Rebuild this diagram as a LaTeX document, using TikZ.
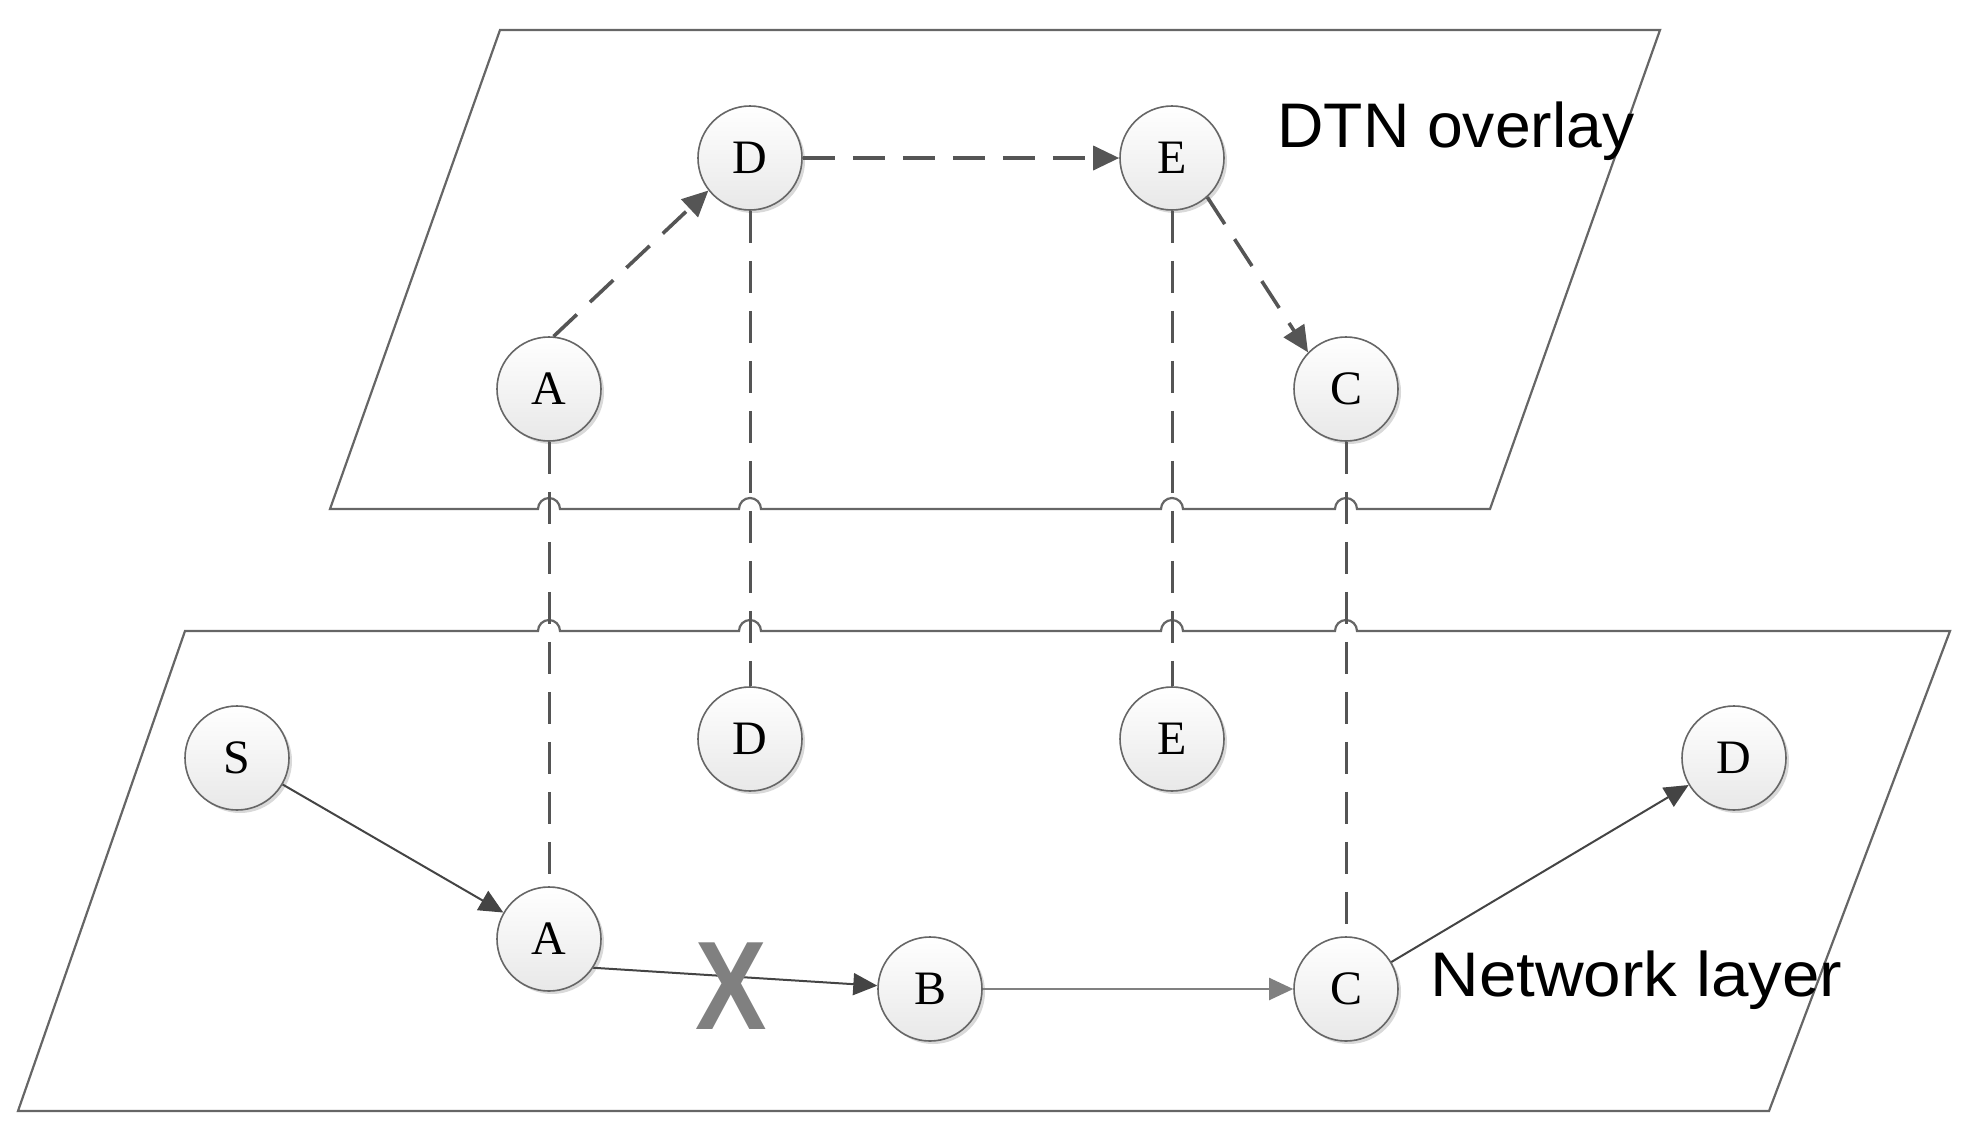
\documentclass[tikz,border=0pt]{standalone}
\usepackage{fontspec}
\setmainfont{Liberation Serif}
\newfontfamily\lblfont{Liberation Sans}
\usetikzlibrary{arrows.meta,shadows}
\definecolor{edgegray}{HTML}{666666}
\definecolor{dashgray}{HTML}{555555}
\definecolor{arrgray}{HTML}{444444}
\definecolor{xgray}{HTML}{808080}
\tikzset{
  nd/.style={circle, draw=black!60, line width=0.8pt, minimum size=52pt, inner sep=0pt,
    top color=white, bottom color=black!9,
    font=\fontsize{24}{24}\selectfont,
    drop shadow={shadow xshift=1.5pt, shadow yshift=-1.5pt, opacity=0.15, fill=black}},
  plane/.style={draw=edgegray, line width=1.1pt, line join=miter},
  vlink/.style={draw=dashgray, line width=1.5pt, dash pattern=on 16pt off 9pt},
  dlink/.style={draw=dashgray, line width=1.8pt, dash pattern=on 16pt off 9pt,
    -{Triangle[length=13pt,width=12pt]}},
  slink/.style={draw=arrgray, line width=1pt, -{Triangle[length=12pt,width=11pt]}},
  lbl/.style={font=\lblfont\fontsize{31.5}{31.5}\selectfont, anchor=base west, inner sep=0pt}
}
\begin{document}
\begin{tikzpicture}[x=0.5pt,y=-0.5pt]
\useasboundingbox (0,0) rectangle (1970,1135);
% planes with hops
\draw[plane] (500,30) -- (1660,30) -- (1490,509) -- (1357,509)
  arc[start angle=0,end angle=180,radius=5.5pt] -- (1183,509)
  arc[start angle=0,end angle=180,radius=5.5pt] -- (761,509)
  arc[start angle=0,end angle=180,radius=5.5pt] -- (560,509)
  arc[start angle=0,end angle=180,radius=5.5pt] -- (330,509) -- cycle;
\draw[plane] (185,631) -- (538,631)
  arc[start angle=180,end angle=0,radius=5.5pt] -- (739,631)
  arc[start angle=180,end angle=0,radius=5.5pt] -- (1161,631)
  arc[start angle=180,end angle=0,radius=5.5pt] -- (1335,631)
  arc[start angle=180,end angle=0,radius=5.5pt] -- (1950,631) -- (1769,1111) -- (18,1111) -- cycle;
% labels
\node[lbl] (ldtn) at (1277,147) {\scalebox{1.02}[1]{DTN overlay}};
\node[lbl] (lnet) at (1430,996) {\scalebox{1.07}[1]{Network layer}};
% overlay nodes
\node[nd] (tD) at (750,158) {D};
\node[nd] (tE) at (1172,158) {E};
\node[nd] (tA) at (549,389) {A};
\node[nd] (tC) at (1346,389) {C};
% network nodes
\node[nd] (S) at (237,758) {S};
\node[nd] (bD) at (750,739) {D};
\node[nd] (bE) at (1172,739) {E};
\node[nd] (bDr) at (1734,758) {D};
\node[nd] (bA) at (549,939) {A};
\node[nd] (bB) at (930,989) {B};
\node[nd] (bC) at (1346,989) {C};
% vertical dashed mappings
\draw[vlink] (tA) -- (bA);
\draw[vlink] (tD) -- (bD);
\draw[vlink] (tE) -- (bE);
\draw[vlink] (tC) -- (bC);
% overlay path
\draw[dlink] (tA.85) -- (tD.218);
\draw[dlink] (tD) -- (tE);
\draw[dlink] (tE.-48) -- (tC.136);
% network path
\draw[slink] (S) -- (bA);
\draw[slink] (bA.-33) -- (bB);
\draw[slink, draw=black!50] (bB) -- (bC);
\draw[slink] (bC) -- (bDr);
% broken link mark
\node[font=\lblfont\bfseries\fontsize{63}{63}\selectfont, text=xgray, inner sep=0pt] (xmark) at (731,986) {\scalebox{0.85}[1]{X}};
\end{tikzpicture}
\end{document}
